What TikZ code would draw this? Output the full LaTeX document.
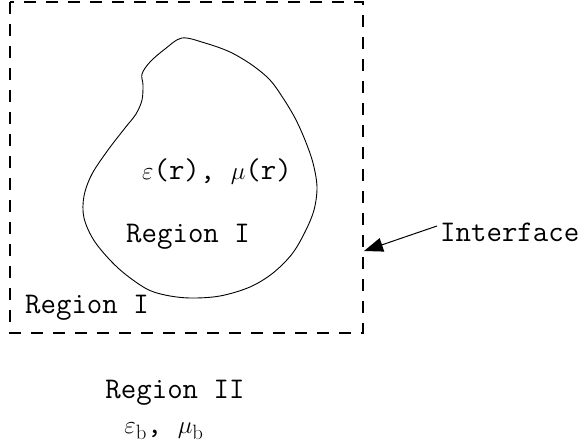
\documentclass[tikz,border=0pt]{standalone}
\usetikzlibrary{arrows.meta}
\tikzset{
  lbl/.style={inner sep=0pt, font=\fontsize{30}{32}\selectfont\ttfamily},
  boundary/.style={line width=1.3pt, dash pattern=on 12pt off 10pt},
  blob/.style={line width=0.9pt},
  pointer/.style={line width=1pt, -{Triangle[length=19pt,width=14pt]}}
}
\begin{document}
\begin{tikzpicture}[x=1pt,y=-1pt]
\useasboundingbox (0,0) rectangle (587,446);
% dashed interface
\draw[boundary] (10,2) rectangle (363,333);
% scatterer
\draw[blob] plot[smooth cycle, tension=0.55] coordinates {
 (182,38) (205,43) (230,52) (252,65) (270,80) (283,98) (295,118) (305,140)
 (313,163) (317,187) (314,210) (305,232) (292,254) (273,273) (250,287)
 (220,296) (190,298) (165,295) (145,288) (118,268) (95,242) (84,218)
 (84,196) (92,174) (108,150) (125,128) (136,114) (142,100) (143,85)
 (142,74) (150,62) (165,49)};
% labels
\node[lbl] (eps) at (217,172) {$\varepsilon$(r), $\mu$(r)};
\node[lbl] (reg1in) at (188,237) {Region I};
\node[lbl, anchor=west] (reg1out) at (25,308) {Region I};
\node[lbl, anchor=west] (iface) at (440,232) {Interface};
\node[lbl] (reg2) at (175,393) {Region II};
\node[lbl] (epsb) at (164,431) {$\varepsilon_{\mathrm{b}}$, $\mu_{\mathrm{b}}$};
% arrow
\coordinate (tip) at (364,251);
\draw[pointer] ([xshift=-3pt,yshift=6pt]iface.west) -- (tip);
\end{tikzpicture}
\end{document}
